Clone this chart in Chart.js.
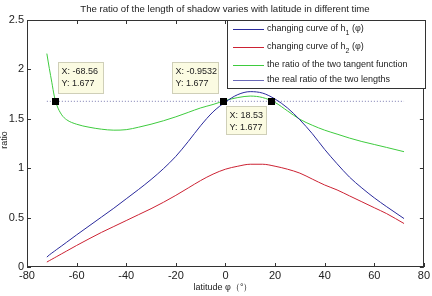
<!DOCTYPE html>
<html>
<head>
<meta charset="utf-8">
<script src="https://cdn.jsdelivr.net/npm/chart.js@4"></script>
<style>
  html, body { margin: 0; padding: 0; background: #fff; }
  #wrap { width: 432px; height: 296px; }
</style>
</head>
<body>
<div id="wrap"><canvas id="chart" width="432" height="296"></canvas></div>
<script>
// latitude (deg) and the three curves
const latitude = [-72,-71,-70,-69,-68,-66,-64,-60,-55,-50,-45,-40,-35,-30,-25,-20,-15,-10,-5,0,5,10,15,20,25,30,35,40,45,50,55,60,65,72];
const h1 = [0.10,0.122,0.141,0.159,0.178,0.214,0.251,0.325,0.415,0.505,0.595,0.69,0.785,0.885,0.995,1.12,1.27,1.43,1.57,1.67,1.745,1.775,1.76,1.70,1.61,1.49,1.35,1.19,1.045,0.91,0.80,0.70,0.61,0.49];
const h2 = [0.05,0.064,0.078,0.092,0.106,0.134,0.162,0.218,0.285,0.35,0.41,0.47,0.53,0.59,0.655,0.725,0.80,0.875,0.94,0.99,1.02,1.04,1.04,1.02,0.99,0.95,0.89,0.83,0.78,0.72,0.66,0.60,0.54,0.44];
const tanRatio = [2.16,2.01,1.87,1.73,1.64,1.54,1.49,1.445,1.415,1.395,1.385,1.39,1.415,1.445,1.48,1.52,1.565,1.61,1.645,1.685,1.715,1.73,1.715,1.665,1.58,1.495,1.435,1.385,1.345,1.305,1.27,1.24,1.21,1.167];
const realRatio = 1.677;
const realRange = [-72, 72];
const tipX = [-68.56, -0.9532, 18.53];
const tipLabels = ['-68.56', '-0.9532', '18.53'];
const xTicks = [-80,-60,-40,-20,0,20,40,60,80];
const yTicks = [0,0.5,1,1.5,2,2.5];

const legendItems = [
  { text: 'changing curve of h', sub: '1', tail: ' (φ)', color: '#2a2a9c' },
  { text: 'changing curve of h', sub: '2', tail: ' (φ)', color: '#cc2233' },
  { text: 'the ratio of the two tangent function', color: '#3ecb3e' },
  { text: 'the real ratio of the two lengths', color: '#6a6ab8' }
];

const pts = (ys) => latitude.map((x, i) => ({ x: x, y: ys[i] }));

const FONT = '"Liberation Sans", Arial, sans-serif';

const matlabDecor = {
  id: 'matlabDecor',
  afterDraw(chart) {
    const ctx = chart.ctx;
    const a = chart.chartArea;
    const xs = chart.scales.x, ys = chart.scales.y;
    ctx.save();

    // box and inward ticks
    ctx.strokeStyle = '#333';
    ctx.lineWidth = 1;
    ctx.strokeRect(Math.round(a.left) + 0.5, Math.round(a.top) + 0.5, Math.round(a.right - a.left) - 1, Math.round(a.bottom - a.top) - 1);
    ctx.beginPath();
    xTicks.forEach(t => {
      const px = Math.round(xs.getPixelForValue(t)) + 0.5;
      ctx.moveTo(px, a.bottom); ctx.lineTo(px, a.bottom - 4);
      ctx.moveTo(px, a.top); ctx.lineTo(px, a.top + 4);
    });
    yTicks.forEach(t => {
      const py = Math.round(ys.getPixelForValue(t)) + 0.5;
      ctx.moveTo(a.left, py); ctx.lineTo(a.left + 4, py);
      ctx.moveTo(a.right, py); ctx.lineTo(a.right - 4, py);
    });
    ctx.stroke();

    // title and axis labels
    ctx.fillStyle = '#222';
    ctx.font = '9.6px ' + FONT;
    ctx.textAlign = 'center';
    ctx.textBaseline = 'middle';
    ctx.fillText('The ratio of the length of shadow varies with latitude in different time', 225, 9);
    ctx.font = '9px ' + FONT;
    ctx.fillText('latitude φ（°）', 223, 288);
    ctx.save();
    ctx.translate(5, 140);
    ctx.rotate(-Math.PI / 2);
    ctx.fillText('ratio', 0, 0);
    ctx.restore();

    // data tips
    const tipBoxes = [
      { dx: 3, dy: -39, w: 45, h: 31 },
      { dx: -51, dy: -39, w: 46, h: 31 },
      { dx: -45, dy: 5, w: 40, h: 28 }
    ];
    tipX.forEach((x, i) => {
      const px = xs.getPixelForValue(x), py = ys.getPixelForValue(realRatio);
      const b = tipBoxes[i];
      const bx = Math.round(px + b.dx) + 0.5, by = Math.round(py + b.dy) + 0.5;
      ctx.fillStyle = '#fbfbe2';
      ctx.strokeStyle = '#cfcfb8';
      ctx.fillRect(bx, by, b.w, b.h);
      ctx.strokeRect(bx, by, b.w, b.h);
      ctx.fillStyle = '#222';
      ctx.font = '9px ' + FONT;
      ctx.textAlign = 'left';
      ctx.fillText('X: ' + tipLabels[i], bx + 3, by + 9);
      ctx.fillText('Y: ' + realRatio, bx + 3, by + 21);
      ctx.fillStyle = '#000';
      ctx.fillRect(Math.round(px) - 3, Math.round(py) - 3, 7, 7);
    });

    // legend box
    const lx = 227.5, ly = 20.5, lw = 198, lh = 68;
    ctx.fillStyle = '#fff';
    ctx.fillRect(lx, ly, lw, lh);
    ctx.strokeStyle = '#333';
    ctx.strokeRect(lx, ly, lw, lh);
    const rows = [29, 47, 65, 80];
    legendItems.forEach((it, i) => {
      const y = rows[i];
      ctx.strokeStyle = it.color;
      ctx.beginPath();
      ctx.moveTo(233, y + 0.5); ctx.lineTo(264, y + 0.5);
      ctx.stroke();
      ctx.fillStyle = '#222';
      ctx.font = '9px ' + FONT;
      ctx.textAlign = 'left';
      let tx = 267;
      ctx.fillText(it.text, tx, y);
      if (it.sub) {
        tx += ctx.measureText(it.text).width;
        ctx.font = '7px ' + FONT;
        ctx.fillText(it.sub, tx, y + 4);
        tx += ctx.measureText(it.sub).width;
        ctx.font = '9px ' + FONT;
        ctx.fillText(it.tail, tx, y);
      }
    });
    ctx.restore();
  }
};

new Chart(document.getElementById('chart'), {
  type: 'line',
  data: {
    datasets: [
      { label: 'h1', data: pts(h1), borderColor: '#2a2a9c' },
      { label: 'h2', data: pts(h2), borderColor: '#cc2233' },
      { label: 'tan', data: pts(tanRatio), borderColor: '#3ecb3e' },
      {
        label: 'real',
        data: realRange.map(x => ({ x: x, y: realRatio })),
        borderColor: '#7a7ab0',
        borderDash: [1, 2],
        tension: 0
      }
    ]
  },
  options: {
    responsive: false,
    animation: false,
    layout: { padding: { top: 20, right: 6, left: 0, bottom: 0 } },
    elements: {
      point: { radius: 0 },
      line: { borderWidth: 1, cubicInterpolationMode: 'monotone', fill: false }
    },
    plugins: { legend: { display: false }, tooltip: { enabled: false }, title: { display: false } },
    scales: {
      x: {
        type: 'linear', min: -80, max: 80,
        afterFit: s => { s.height = 29; },
        afterBuildTicks: s => { s.ticks = xTicks.map(v => ({ value: v })); },
        grid: { display: false, drawTicks: false },
        border: { display: false },
        ticks: { font: { family: FONT, size: 11 }, color: '#222', padding: 2, maxRotation: 0, callback: v => String(v) }
      },
      y: {
        min: 0, max: 2.5,
        afterFit: s => { s.width = 27; },
        afterBuildTicks: s => { s.ticks = yTicks.map(v => ({ value: v })); },
        grid: { display: false, drawTicks: false },
        border: { display: false },
        ticks: { font: { family: FONT, size: 11 }, color: '#222', padding: 3, callback: v => String(v) }
      }
    }
  },
  plugins: [matlabDecor]
});
</script>
</body>
</html>
